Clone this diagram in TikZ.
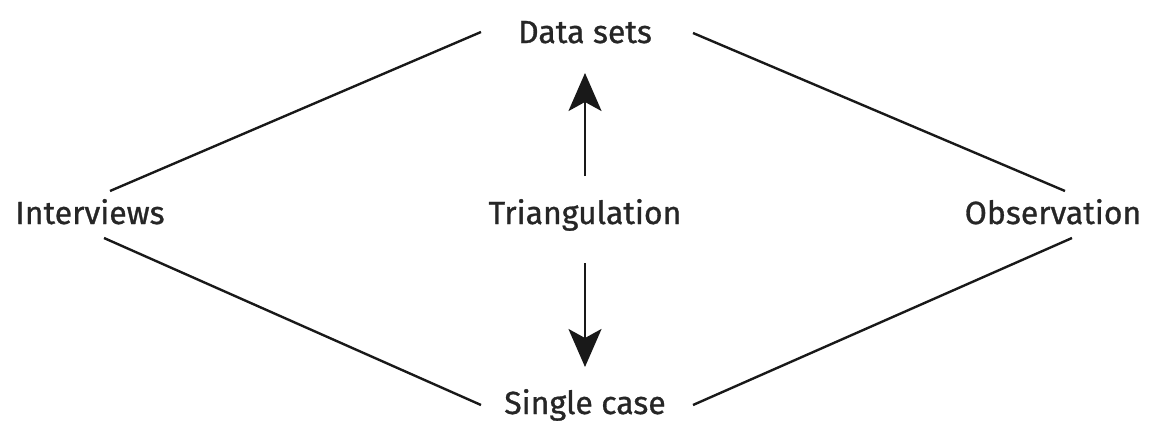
\documentclass[tikz,border=0pt]{standalone}
\usepackage{fontspec}
\setmainfont{Fira Sans}[FakeBold=0.9]
\usetikzlibrary{arrows.meta}
\begin{document}
\begin{tikzpicture}[x=1pt,y=-1pt,
  lbl/.style={font=\fontsize{32}{38}\selectfont, text=black!85, inner sep=0pt, anchor=base},
  edge/.style={line width=2.4pt, black!90},
  vec/.style={line width=2.4pt, black!90, -{Stealth[length=38pt,width=33pt,inset=9pt]}}]
\useasboundingbox (0,0) rectangle (1149,423);
\node[lbl] (ds) at (585,43) {Data sets};
\node[lbl] (iv) at (90,224) {Interviews};
\node[lbl] (tri) at (585,224) {Triangulation};
\node[lbl] (ob) at (1053,224) {Observation};
\node[lbl] (sc) at (585,414) {Single case};
\coordinate (ds-w) at (481,32);
\coordinate (ds-e) at (693,33);
\coordinate (iv-n) at (110,191);
\coordinate (iv-s) at (104,238);
\coordinate (ob-n) at (1065,191);
\coordinate (ob-s) at (1072,238);
\coordinate (sc-w) at (481,405);
\coordinate (sc-e) at (693,405);
\coordinate (tri-n) at (585,176);
\coordinate (ds-s) at (585,73);
\coordinate (tri-s) at (585,263);
\coordinate (sc-n) at (585,367);
\draw[edge] (iv-n) -- (ds-w);
\draw[edge] (ds-e) -- (ob-n);
\draw[edge] (iv-s) -- (sc-w);
\draw[edge] (sc-e) -- (ob-s);
\draw[vec] (tri-n) -- (ds-s);
\draw[vec] (tri-s) -- (sc-n);
\end{tikzpicture}
\end{document}
